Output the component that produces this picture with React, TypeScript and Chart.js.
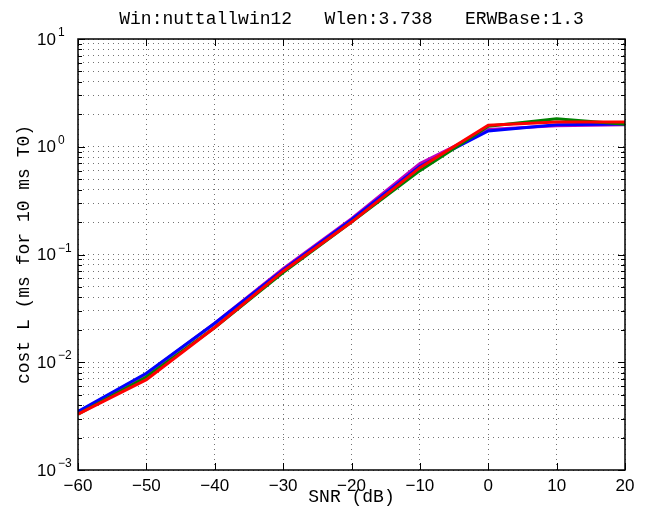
import React, { useEffect, useRef } from "react";
import { Chart, registerables } from "chart.js";

Chart.register(...registerables);

const snr = [-60, -50, -40, -30, -20, -10, 0, 10, 20];
const magentaVals = [0.0034, 0.0078, 0.023, 0.074, 0.215, 0.70, 1.45, 1.57, 1.6];
const blueVals = [0.0035, 0.0079, 0.023, 0.072, 0.21, 0.66, 1.40, 1.6, 1.63];
const greenVals = [0.0033, 0.0073, 0.021, 0.068, 0.20, 0.60, 1.55, 1.82, 1.62];
const redVals = [0.0033, 0.0069, 0.021, 0.070, 0.20, 0.64, 1.58, 1.70, 1.70];
const yExponents = [-3, -2, -1, 0, 1];
const xTicks = [-60, -50, -40, -30, -20, -10, 0, 10, 20];

const titleText = "Win:nuttallwin12   Wlen:3.738   ERWBase:1.3";
const xTitle = "SNR (dB)";
const yTitle = "cost L (ms for 10 ms T0)";

const MONO = '"Liberation Mono", "Courier New", monospace';
const SANS = '"Liberation Sans", Arial, sans-serif';

function logTickValues(): number[] {
  const out: number[] = [];
  for (let e = yExponents[0]; e < yExponents[yExponents.length - 1]; e++) {
    for (let s = 1; s <= 9; s++) out.push(Number((s * Math.pow(10, e)).toPrecision(3)));
  }
  out.push(Math.pow(10, yExponents[yExponents.length - 1]));
  return out;
}

const decorPlugin = {
  id: "decor",
  afterDatasetsDraw(chart: any) {
    const { ctx, chartArea } = chart;
    const { left, right, top, bottom } = chartArea;
    const xs = chart.scales.x;
    const ys = chart.scales.y;
    ctx.save();
    // frame
    ctx.strokeStyle = "#000";
    ctx.lineWidth = 1.5;
    ctx.setLineDash([]);
    ctx.strokeRect(left, top, right - left, bottom - top);
    // inward ticks
    ctx.lineWidth = 1;
    ctx.beginPath();
    for (const v of xTicks) {
      const px = Math.round(xs.getPixelForValue(v)) + 0.5;
      ctx.moveTo(px, bottom);
      ctx.lineTo(px, bottom - 7);
      ctx.moveTo(px, top);
      ctx.lineTo(px, top + 7);
    }
    for (const v of logTickValues()) {
      const py = Math.round(ys.getPixelForValue(v)) + 0.5;
      const major = Math.abs(Math.log10(v) - Math.round(Math.log10(v))) < 1e-6;
      const len = major ? 7 : 4;
      ctx.moveTo(left, py);
      ctx.lineTo(left + len, py);
      ctx.moveTo(right, py);
      ctx.lineTo(right - len, py);
    }
    ctx.stroke();
    // y tick labels
    ctx.fillStyle = "#000";
    for (const e of yExponents) {
      const py = ys.getPixelForValue(Math.pow(10, e));
      ctx.font = `17px ${SANS}`;
      ctx.textAlign = "left";
      ctx.textBaseline = "middle";
      ctx.fillText("10", 37, py + 1);
      ctx.font = `12px ${SANS}`;
      ctx.textBaseline = "alphabetic";
      const exp = e < 0 ? "\u2212" + Math.abs(e) : String(e);
      ctx.fillText(exp, 58, py - 3);
    }
    // titles
    ctx.font = `18px ${MONO}`;
    ctx.textAlign = "center";
    ctx.textBaseline = "middle";
    const cx = (left + right) / 2;
    ctx.fillText(titleText, cx, 19);
    ctx.fillText(xTitle, cx, 497);
    ctx.translate(24, (top + bottom) / 2);
    ctx.rotate(-Math.PI / 2);
    ctx.fillText(yTitle, 0, 0);
    ctx.restore();
  },
};

export default function App() {
  const ref = useRef<HTMLCanvasElement | null>(null);
  useEffect(() => {
    if (!ref.current) return;
    const mk = (label: string, data: number[], color: string) => ({
      label,
      data: snr.map((x, i) => ({ x, y: data[i] })),
      borderColor: color,
      backgroundColor: color,
      borderWidth: 3,
      pointRadius: 0,
      tension: 0,
      fill: false,
    });
    const chart = new Chart(ref.current, {
      type: "line",
      data: {
        datasets: [
          mk("red", redVals, "#ff0000"),
          mk("green", greenVals, "#008000"),
          mk("blue", blueVals, "#0000ff"),
          mk("magenta", magentaVals, "#bf00bf"),
        ],
      },
      options: {
        responsive: false,
        animation: false,
        layout: { padding: { top: 39, right: 21, left: 0, bottom: 0 } },
        plugins: { legend: { display: false }, tooltip: { enabled: false }, title: { display: false } },
        scales: {
          x: {
            type: "linear",
            min: -60,
            max: 20,
            afterBuildTicks: (scale: any) => {
              scale.ticks = xTicks.map((v) => ({ value: v }));
            },
            afterFit: (scale: any) => {
              scale.height = 36;
            },
            ticks: {
              autoSkip: false,
              maxRotation: 0,
              padding: 6,
              color: "#000",
              font: { family: SANS, size: 17 },
              callback: (v: any) => (Number(v) < 0 ? "\u2212" + Math.abs(Number(v)) : String(v)),
            },
            grid: {
              drawTicks: false,
              color: "rgba(0,0,0,0.55)",
              lineWidth: 1,
              tickBorderDash: [1, 4],
            },
            border: { display: false, dash: [1, 4] },
          },
          y: {
            type: "logarithmic",
            min: 0.001,
            max: 10,
            afterBuildTicks: (scale: any) => {
              scale.ticks = logTickValues().map((v) => ({ value: v }));
            },
            afterFit: (scale: any) => {
              scale.width = 78;
            },
            ticks: { display: false, autoSkip: false },
            grid: {
              drawTicks: false,
              color: "rgba(0,0,0,0.55)",
              lineWidth: 1,
            },
            border: { display: false, dash: [1, 4] },
          },
        },
      },
      plugins: [decorPlugin],
    });
    return () => chart.destroy();
  }, []);
  return (
    <div style={{ position: "fixed", left: 0, top: 0, width: 646, height: 506, background: "#fff" }}>
      <canvas ref={ref} width={646} height={506} />
    </div>
  );
}
